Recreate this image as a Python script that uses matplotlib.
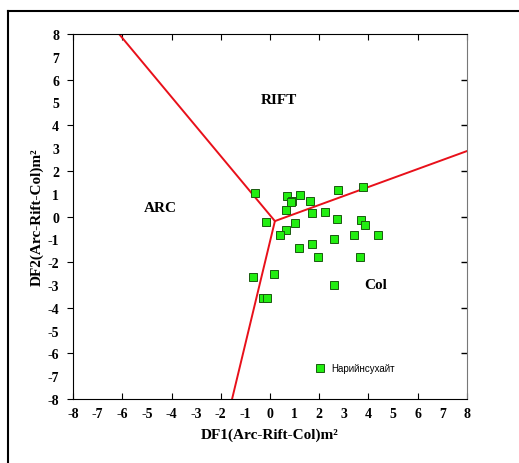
import matplotlib
matplotlib.use("Agg")
import matplotlib.pyplot as plt
from matplotlib.lines import Line2D

# Дискриминантные линии (центр и концы)
center = (0.2, -0.2)
line_ends = [(-6.13, 8.0), (8.0, 2.87), (-1.54, -8.0)]

# Точки образцов
df1 = [-0.60, 0.71, 1.20, 0.90, 0.86, 1.62, 2.77, 3.79, 0.66, 1.69, 2.24,
       -0.18, 1.01, 2.71, 3.68, 3.86, 0.66, 0.41, 2.59, 3.41, 4.37, 1.17,
       1.71, 1.97, 3.67, -0.70, 0.16, 2.58, -0.30, -0.11]
df2 = [1.03, 0.88, 0.93, 0.66, 0.62, 0.68, 1.17, 1.30, 0.28, 0.16, 0.22,
       -0.23, -0.30, -0.13, -0.16, -0.36, -0.57, -0.79, -1.00, -0.83, -0.83,
       -1.36, -1.22, -1.77, -1.77, -2.63, -2.53, -3.01, -3.58, -3.58]

fields = ['RIFT', 'ARC', 'Col']
field_x = [0.37, -4.46, 4.28]
field_y = [5.15, 0.41, -2.96]

fig = plt.figure(figsize=(5.19, 4.64), dpi=100)
ax = fig.add_axes([0.1407, 0.1379, 0.759, 0.7866])

for ex, ey in line_ends:
    ax.plot([center[0], ex], [center[1], ey], color='#e8101a', lw=1.4, zorder=2)

ax.plot(df1, df2, 's', color='#22ee11', markeredgecolor='#1a5a10',
        markeredgewidth=0.7, markersize=5.5, linestyle='none',
        label='Нарийнсухайт', zorder=3)

for name, fx, fy in zip(fields, field_x, field_y):
    ax.text(fx, fy, name, ha='center', va='center', fontsize=11,
            fontweight='bold', family='Liberation Serif')

ax.set_xlim(-8, 8)
ax.set_ylim(-8, 8)
ax.set_xticks(range(-8, 9, 2))
ax.set_xticks(range(-7, 8, 2), minor=True)
ax.set_yticks(range(-8, 9, 2))
ax.set_yticks(range(-7, 8, 2), minor=True)
ax.set_xticklabels([str(v) for v in range(-8, 9, 2)])
ax.set_xticklabels([str(v) for v in range(-7, 8, 2)], minor=True)
ax.set_yticklabels([str(v) for v in range(-8, 9, 2)])
ax.set_yticklabels([str(v) for v in range(-7, 8, 2)], minor=True)
ax.tick_params(axis='x', which='major', direction='in', top=True, length=4, pad=6)
ax.tick_params(axis='x', which='minor', length=0, pad=6)
ax.tick_params(axis='y', which='major', direction='out', right=False, length=4, pad=6)
ax.tick_params(axis='y', which='minor', length=0, pad=10)
for lab in ax.get_xticklabels(which='both') + ax.get_yticklabels(which='both'):
    lab.set_family('Liberation Serif')
    lab.set_fontweight('bold')
    lab.set_fontsize(10)
for v in range(-6, 8, 2):
    ax.plot([8], [v], marker=0, color='black', markersize=4, clip_on=False)
ax.spines['right'].set_color('#777777')

ax.set_xlabel('DF1(Arc-Rift-Col)m²', fontsize=11, fontweight='bold',
              family='Liberation Serif', labelpad=5)
ax.set_ylabel('DF2(Arc-Rift-Col)m²', fontsize=11, fontweight='bold',
              family='Liberation Serif', labelpad=3)

leg = ax.legend(loc='center left', bbox_to_anchor=(0.615, 0.085), frameon=False,
                handlelength=1.0, handletextpad=0.6, borderpad=0, borderaxespad=0,
                prop={'family': 'Liberation Sans', 'size': 7})

# рамка рисунка
fig.add_artist(Line2D([8/519, 8/519], [0, 1 - 12/464], color='black', lw=1.5))
fig.add_artist(Line2D([8/519, 1], [1 - 12/464, 1 - 12/464], color='black', lw=1.5))

fig.savefig('out.png', dpi=100)
